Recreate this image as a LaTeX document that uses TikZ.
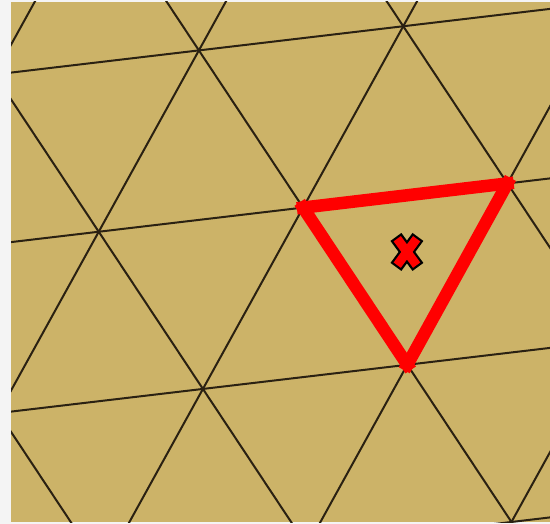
\documentclass[tikz,border=0pt]{standalone}
\usetikzlibrary{positioning}

\definecolor{sand}{RGB}{204,179,104}
\definecolor{gridink}{RGB}{42,33,18}
\definecolor{margin}{RGB}{244,244,244}

\tikzset{
  latline/.style={draw=gridink, line width=2pt},
  celledge/.style={draw=red, line width=12.5pt, line cap=rect},
  markout/.style={draw=black, line width=13.5pt},
  markin/.style={draw=red, line width=9pt},
}

\begin{document}
\begin{tikzpicture}[x=1pt,y=1pt]
\fill[margin] (0,0) rectangle (550,-524);
\useasboundingbox (0,0) rectangle (550,-524);
\fill[sand] (11,-2) rectangle (550,-522);

% triangular lattice, clipped to the sheet
\begin{scope}
\clip (11,-2) rectangle (550,-522);
\begin{scope}[shift={(198.9,-50.4)}, x={(204.35pt,24.15pt)}, y={(104.19pt,-157.19pt)}]
\foreach \j in {-2,...,5}
  \draw[latline] (-6,\j) -- (6,\j);
\foreach \i in {-5,...,5}
  \draw[latline] (\i,-4) -- (\i,7);
\foreach \k in {-4,...,7}
  \draw[latline] (\k+6,-6) -- (\k-6,6);
\coordinate (left) at (0,1);
\coordinate (right) at (1,1);
\coordinate (bottom) at (0,2);
\coordinate (xmark) at (1/3,4/3);
\end{scope}
\end{scope}

% highlighted cell
\draw[celledge] (left) -- (right);
\draw[celledge] (right) -- (bottom);
\draw[celledge] (bottom) -- (left);

% cross at the centre of the cell
\begin{scope}[shift={(xmark)}, xshift=1pt]
\draw[markout] (-11,15) -- (11,-15);
\draw[markout] (11,15) -- (-11,-15);
\draw[markin] (-9.7,13.2) -- (9.7,-13.2);
\draw[markin] (9.7,13.2) -- (-9.7,-13.2);
\end{scope}
\end{tikzpicture}
\end{document}
